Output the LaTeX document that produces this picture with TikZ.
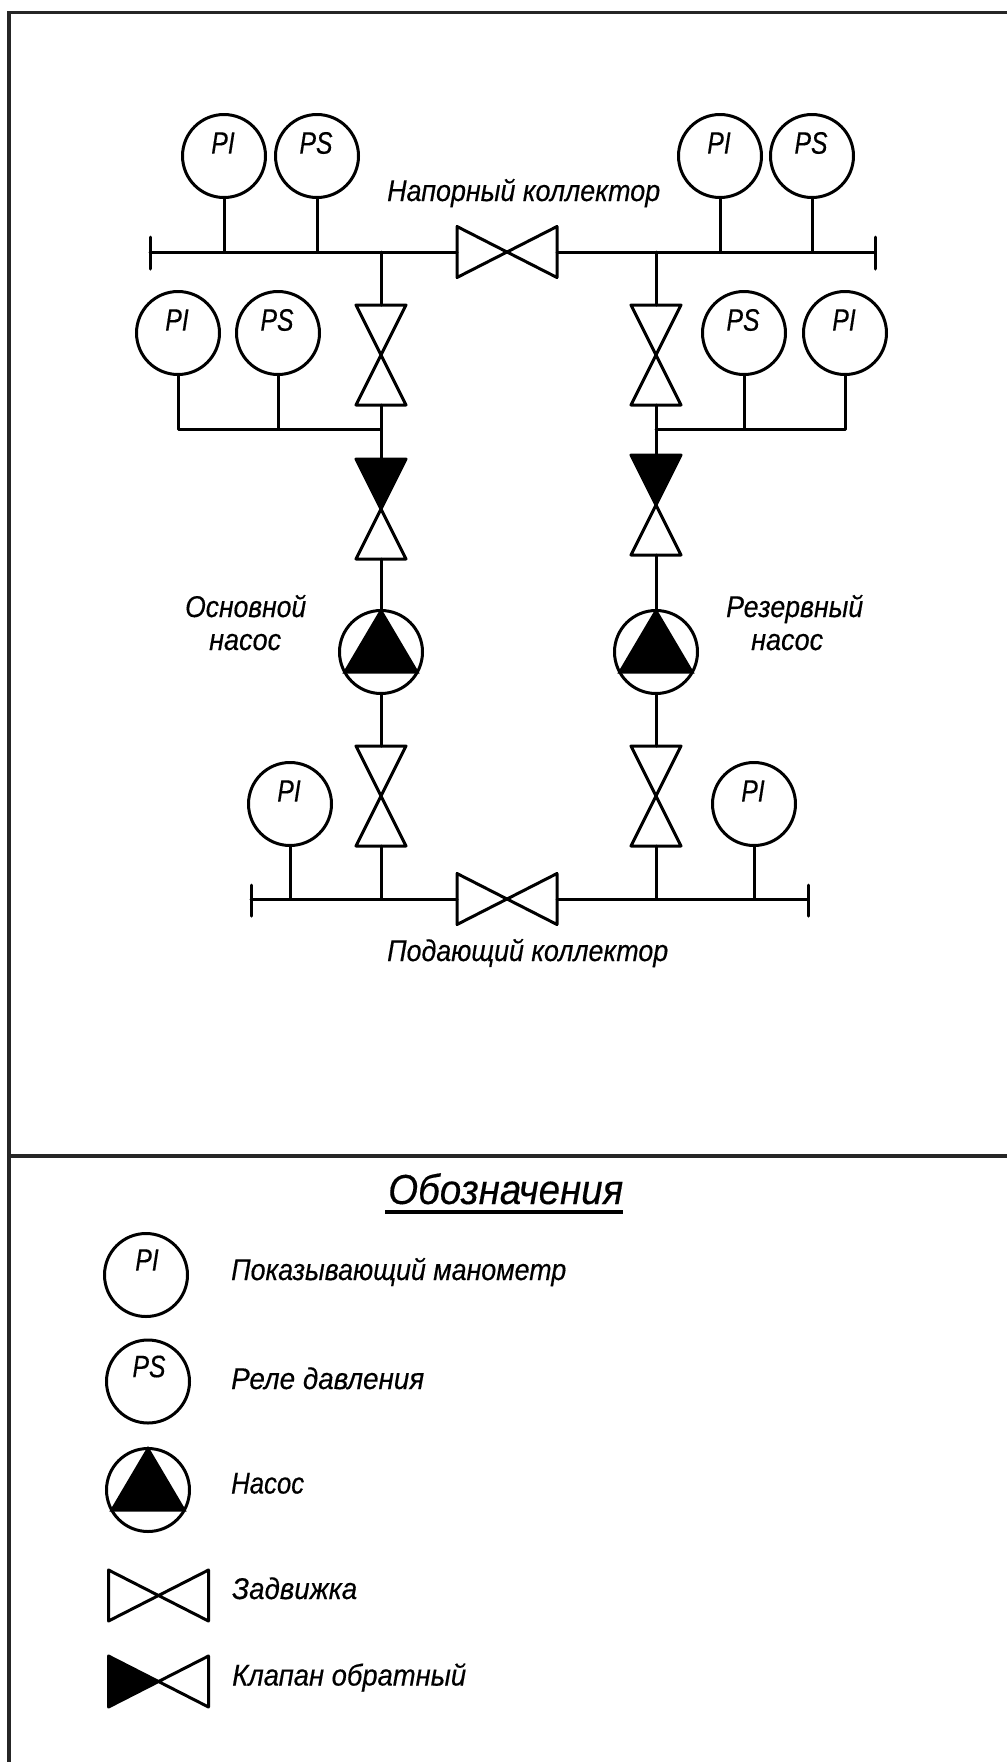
\documentclass[tikz,border=0pt]{standalone}
\usepackage{fontspec}
\usepackage{graphicx}
\setmainfont[FakeBold=0.35]{Liberation Sans}
\newcommand{\fitw}[2]{\resizebox{#1pt}{\height}{\itshape #2}}
\newcommand{\gauge}[4]{%
  \node[gaugecirc] (#1) at (#2,#3) {};
  \node[gaugetext] (#1-t) at (#2-1,#3-13) {\scalebox{0.8}[1]{\itshape #4}};}
\newcommand{\legendgauge}[4]{%
  \node[gaugecirc] (#1) at (#2,#3) {};
  \node[gaugetext] (#1-t) at (#2+1,#3-15) {\scalebox{0.8}[1]{\itshape #4}};}
\newcommand{\pump}[3]{%
  \node[gaugecirc] (#1) at (#2,#3) {};
  \fill[black] (#2,#3-41) -- (#2+36,#3+20) -- (#2-36,#3+20) -- cycle;
  \draw[pipe,line join=miter] (#2,#3-41) -- (#2+36,#3+20) -- (#2-36,#3+20) -- cycle;}
% horizontal valve: name, cx, cy, left fill
\newcommand{\hvalve}[4]{%
  \coordinate (#1-w) at (#2-50,#3);
  \coordinate (#1-e) at (#2+50,#3);
  \fill[#4] (#2,#3) -- (#2-50,#3-25.5) -- (#2-50,#3+25.5) -- cycle;
  \draw[pipe] (#2-50,#3-25.5) -- (#2+50,#3+25.5) -- (#2+50,#3-25.5) -- (#2-50,#3+25.5) -- cycle;}
% vertical valve: name, cx, cy, top fill
\newcommand{\vvalve}[4]{%
  \coordinate (#1-n) at (#2,#3-50);
  \coordinate (#1-s) at (#2,#3+50);
  \fill[#4] (#2,#3) -- (#2-25,#3-50) -- (#2+25,#3-50) -- cycle;
  \draw[pipe] (#2-25,#3-50) -- (#2+25,#3+50) -- (#2-25,#3+50) -- (#2+25,#3-50) -- cycle;}
\tikzset{
  pipe/.style={line width=3pt,line join=round,line cap=round},
  framing/.style={line width=3.6pt,color=black!85},
  gaugecirc/.style={circle,draw,line width=3pt,fill=white,minimum size=83pt,inner sep=0pt},
  gaugetext/.style={inner sep=0pt,font=\fontsize{31}{33}\selectfont},
  lbl/.style={inner sep=0pt,anchor=base west,font=\fontsize{30}{32}\selectfont}
}
\begin{document}
\begin{tikzpicture}[x=1pt,y=-1pt]
\useasboundingbox (0,0) rectangle (1007,1762);
\fill[white] (0,0) rectangle (1007,1762);
% frame
\coordinate (fr-tl) at (9,12.6);
\coordinate (fr-tr) at (1007,12.6);
\coordinate (fr-bl) at (9,1762);
\coordinate (fr-ml) at (9,1156);
\coordinate (fr-mr) at (1007,1156);
\draw[framing] (fr-bl) -- (fr-tl) -- (fr-tr);
\draw[framing] (fr-ml) -- (fr-mr);
% upper header
\hvalve{hv1}{507}{252}{white}
\coordinate (h1-l) at (150,252);
\coordinate (h1-r) at (875,252);
\coordinate (h1-lt) at (150,237);
\coordinate (h1-lb) at (150,269);
\coordinate (h1-rt) at (875,237);
\coordinate (h1-rb) at (875,269);
\draw[pipe] (h1-l) -- (hv1-w);
\draw[pipe] (hv1-e) -- (h1-r);
\draw[pipe] (h1-lt) -- (h1-lb);
\draw[pipe] (h1-rt) -- (h1-rb);
\gauge{g1}{224}{156}{PI}
\gauge{g2}{317}{156}{PS}
\gauge{g3}{720}{156}{PI}
\gauge{g4}{812}{156}{PS}
\draw[pipe] (g1.south) -- (g1.south |- h1-l);
\draw[pipe] (g2.south) -- (g2.south |- h1-l);
\draw[pipe] (g3.south) -- (g3.south |- h1-l);
\draw[pipe] (g4.south) -- (g4.south |- h1-l);
% left column
\vvalve{v1}{381}{355}{white}
\vvalve{c1}{381}{509}{black}
\pump{p1}{381}{652}
\vvalve{v3}{381}{796}{white}
\draw[pipe] (v1-n |- h1-l) -- (v1-n);
\draw[pipe] (v1-s) -- (c1-n);
\draw[pipe] (c1-s) -- (p1.north);
\draw[pipe] (p1.south) -- (v3-n);
% right column
\vvalve{v2}{656}{355}{white}
\vvalve{c2}{656}{505}{black}
\pump{p2}{656}{652}
\vvalve{v4}{656}{796}{white}
\draw[pipe] (v2-n |- h1-l) -- (v2-n);
\draw[pipe] (v2-s) -- (c2-n);
\draw[pipe] (c2-s) -- (p2.north);
\draw[pipe] (p2.south) -- (v4-n);
% branch gauges
\gauge{g5}{178}{333}{PI}
\gauge{g6}{278}{333}{PS}
\gauge{g7}{744}{333}{PS}
\gauge{g8}{845}{333}{PI}
\coordinate (b1) at (381,429);
\coordinate (b2) at (656,429);
\draw[pipe] (g5.south) |- (b1);
\draw[pipe] (g6.south) -- (g6.south |- b1);
\draw[pipe] (g8.south) |- (b2);
\draw[pipe] (g7.south) -- (g7.south |- b2);
% lower header
\hvalve{hv2}{507}{899}{white}
\coordinate (h2-l) at (251,899);
\coordinate (h2-r) at (808,899);
\coordinate (h2-lt) at (251,885);
\coordinate (h2-lb) at (251,916);
\coordinate (h2-rt) at (808,885);
\coordinate (h2-rb) at (808,916);
\draw[pipe] (h2-l) -- (hv2-w);
\draw[pipe] (hv2-e) -- (h2-r);
\draw[pipe] (h2-lt) -- (h2-lb);
\draw[pipe] (h2-rt) -- (h2-rb);
\draw[pipe] (v3-s) -- (v3-s |- h2-l);
\draw[pipe] (v4-s) -- (v4-s |- h2-l);
\gauge{g9}{290}{804}{PI}
\gauge{g10}{754}{804}{PI}
\draw[pipe] (g9.south) -- (g9.south |- h2-l);
\draw[pipe] (g10.south) -- (g10.south |- h2-l);
% labels
\node[lbl] (t1) at (387,201) {\fitw{273}{Напорный коллектор}};
\node[lbl] (t2) at (387,961) {\fitw{281}{Подающий коллектор}};
\node[lbl] (t3) at (185,617) {\fitw{121}{Основной}};
\node[lbl] (t4) at (209,650) {\fitw{72}{насос}};
\node[lbl] (t5) at (726,617) {\fitw{137}{Резервный}};
\node[lbl] (t6) at (751,650) {\fitw{72}{насос}};
% legend
\node[lbl,font=\fontsize{42}{44}\selectfont] (leg) at (388,1204) {\fitw{235}{Обозначения}};
\coordinate (leg-a) at (385,1212);
\coordinate (leg-b) at (623,1212);
\draw[line width=3.2pt] (leg-a) -- (leg-b);
\legendgauge{l1}{146}{1275}{PI}
\legendgauge{l2}{148}{1381.5}{PS}
\pump{l3}{148}{1490}
\hvalve{l4}{158.5}{1595.5}{white}
\hvalve{l5}{158.5}{1681.5}{black}
\node[lbl] (d1) at (231,1280) {\fitw{335}{Показывающий манометр}};
\node[lbl] (d2) at (231,1389) {\fitw{193}{Реле давления}};
\node[lbl] (d3) at (231,1493.5) {\fitw{73}{Насос}};
\node[lbl] (d4) at (232,1599) {\fitw{125}{Задвижка}};
\node[lbl] (d5) at (232,1685.5) {\fitw{234}{Клапан обратный}};
\end{tikzpicture}
\end{document}
